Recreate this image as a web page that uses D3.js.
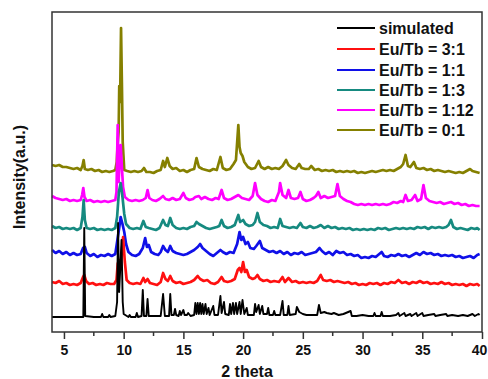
<!DOCTYPE html>
<html><head><meta charset="utf-8">
<script src="https://cdn.jsdelivr.net/npm/d3@7"></script>
<style>body{margin:0;background:#fff}svg{display:block}text{font-family:Arial,"Liberation Sans",sans-serif;font-weight:bold}</style>
</head><body><svg id="c" width="488" height="379"></svg>
<script>
const seriesNames = ["simulated","Eu/Tb = 3:1","Eu/Tb = 1:1","Eu/Tb = 1:3","Eu/Tb = 1:12","Eu/Tb = 0:1"];
const seriesColors = ["#000000","#ff1010","#1010e8","#168a80","#ff00ff","#858000"];
const xTicks = [5,10,15,20,25,30,35,40];
const xMinorTicks = [7.5,12.5,17.5,22.5,27.5,32.5,37.5];

const simulated = [[4.0,15],[6.5,15],[6.62,15],[6.7,104],[6.78,16],[7.5,15],[8.1,15],[8.2,18],[8.3,15],[8.7,15],[8.8,17],[8.9,15],[9.3,16],[9.45,30],[9.53,109],[9.62,40],[9.7,60],[9.82,92],[9.92,30],[10.0,18],[10.4,15],[10.5,17],[10.6,15],[11.0,15],[11.1,19],[11.2,15],[11.5,16],[11.6,42],[11.7,16],[11.9,16],[12.0,33],[12.1,16],[13.1,16],[13.3,38],[13.45,16],[13.8,16],[13.9,38],[14.0,17],[14.2,17],[14.3,23],[14.4,17],[14.6,16],[14.7,21],[14.8,17],[15.0,22],[15.1,17],[15.3,17],[15.4,19],[15.6,16],[15.9,17],[16.0,29],[16.1,18],[16.2,29],[16.3,18],[16.4,29],[16.5,18],[16.6,28],[16.7,18],[16.85,28],[16.95,18],[17.1,24],[17.2,17],[17.5,26],[17.6,17],[17.9,17],[18.1,36],[18.2,19],[18.4,30],[18.5,18],[18.8,17],[18.9,28],[19.0,18],[19.15,29],[19.25,18],[19.4,29],[19.5,18],[19.7,30],[19.8,18],[19.95,32],[20.1,18],[20.3,24],[20.4,17],[20.9,17],[21.0,28],[21.1,20],[21.3,27],[21.4,18],[21.6,26],[21.7,18],[22.0,18],[22.1,24],[22.2,17],[22.5,17],[22.6,21],[22.7,17],[23.1,17],[23.3,31],[23.4,17],[23.7,17],[23.8,26],[23.9,17],[24.4,18],[24.5,25],[24.7,20],[25.0,18],[25.3,17],[26.2,17],[26.35,27],[26.5,19],[26.8,20],[27.0,19],[27.4,18],[27.6,19],[28.0,17],[28.4,18],[29.0,21],[29.1,16],[29.5,16],[30.0,17],[30.5,16],[30.9,16],[31.0,19],[31.1,16],[31.5,16],[31.6,20],[31.7,16],[32.3,16],[32.8,17],[33.0,19],[33.1,16],[33.5,19],[33.6,16],[34.0,18],[34.1,16],[34.5,19],[34.6,16],[35.0,19],[35.1,16],[35.5,17],[36.0,18],[36.1,16],[36.5,17],[37.0,18],[37.1,16],[37.5,17],[38.0,16],[38.4,17],[38.8,16],[39.2,18],[39.4,16],[39.7,18],[39.8,17]];

const ratio3to1 = [[4.0,50],[4.3,49],[4.6,51],[4.9,48],[5.2,49],[5.5,47],[5.8,48],[6.1,47],[6.4,49],[6.6,55],[6.7,57],[6.85,51],[7.1,48],[7.4,49],[7.7,47],[8.0,48],[8.3,47],[8.6,49],[8.9,48],[9.2,48],[9.4,52],[9.5,68],[9.6,72],[9.7,62],[9.8,74],[9.95,95],[10.1,70],[10.25,52],[10.5,49],[10.8,48],[11.1,49],[11.4,48],[11.65,54],[11.8,50],[12.0,53],[12.2,49],[12.5,48],[12.8,47],[13.1,50],[13.3,59],[13.5,53],[13.7,51],[13.9,56],[14.1,51],[14.4,49],[14.7,50],[15.0,48],[15.3,49],[15.6,50],[15.9,52],[16.2,56],[16.4,53],[16.7,51],[17.0,52],[17.3,49],[17.6,48],[17.9,50],[18.2,55],[18.4,51],[18.7,50],[19.0,51],[19.3,53],[19.55,62],[19.7,64],[19.85,60],[20.0,70],[20.15,60],[20.3,62],[20.5,55],[20.8,53],[21.0,54],[21.2,57],[21.4,53],[21.7,51],[22.0,52],[22.3,50],[22.6,51],[23.0,50],[23.3,55],[23.5,50],[23.8,54],[24.1,50],[24.4,51],[24.7,49],[25.0,50],[25.3,49],[25.6,50],[25.9,49],[26.2,51],[26.5,57],[26.7,52],[27.0,51],[27.3,52],[27.6,50],[27.9,51],[28.2,50],[28.5,49],[28.8,50],[29.1,48],[29.4,49],[29.7,47],[30.0,48],[30.3,47],[30.6,49],[30.9,48],[31.2,49],[31.5,47],[31.8,49],[32.1,48],[32.4,50],[32.7,49],[33.0,52],[33.3,49],[33.6,50],[33.9,48],[34.2,50],[34.5,49],[34.8,51],[35.1,49],[35.4,50],[35.7,48],[36.0,49],[36.3,48],[36.6,50],[36.9,48],[37.2,49],[37.5,47],[37.8,48],[38.1,47],[38.4,48],[38.7,46],[39.0,48],[39.3,47],[39.6,48],[39.8,46]];

const ratio1to1 = [[4.0,82],[4.3,79],[4.6,81],[4.9,78],[5.2,80],[5.5,77],[5.8,79],[6.1,77],[6.4,78],[6.6,84],[6.75,85],[6.9,79],[7.2,76],[7.5,78],[7.8,75],[8.1,77],[8.4,76],[8.7,78],[9.0,76],[9.3,78],[9.45,90],[9.6,102],[9.75,115],[9.9,108],[10.05,100],[10.2,88],[10.4,80],[10.7,77],[11.0,76],[11.3,78],[11.6,84],[11.8,94],[11.95,85],[12.1,87],[12.3,80],[12.6,78],[12.9,77],[13.1,80],[13.3,86],[13.5,82],[13.7,80],[13.9,86],[14.1,81],[14.4,79],[14.7,78],[15.0,77],[15.3,78],[15.6,80],[15.9,82],[16.2,85],[16.4,88],[16.6,84],[16.9,81],[17.2,78],[17.5,76],[17.8,79],[18.1,82],[18.3,80],[18.6,78],[18.9,80],[19.2,79],[19.5,88],[19.7,100],[19.85,92],[20.0,95],[20.2,88],[20.4,90],[20.6,84],[20.9,83],[21.1,86],[21.4,91],[21.6,84],[21.9,82],[22.2,80],[22.5,81],[22.8,79],[23.1,81],[23.4,78],[23.7,80],[24.0,77],[24.3,79],[24.6,78],[24.9,80],[25.2,77],[25.5,78],[25.8,79],[26.1,80],[26.4,84],[26.6,81],[26.9,78],[27.2,80],[27.5,77],[27.8,81],[28.1,79],[28.4,80],[28.7,77],[29.0,78],[29.3,76],[29.6,77],[29.9,74],[30.2,75],[30.5,74],[30.8,76],[31.1,75],[31.4,78],[31.6,80],[31.8,76],[32.1,75],[32.4,77],[32.7,76],[33.0,78],[33.3,76],[33.6,77],[33.9,75],[34.2,77],[34.5,79],[34.8,77],[35.1,80],[35.4,78],[35.7,79],[36.0,77],[36.3,78],[36.6,76],[36.9,77],[37.2,76],[37.5,77],[37.8,75],[38.1,76],[38.4,74],[38.7,75],[39.0,76],[39.3,74],[39.6,77],[39.8,78]];

const ratio1to3 = [[4.0,106],[4.3,104],[4.6,105],[4.9,103],[5.2,104],[5.5,103],[5.8,104],[6.1,102],[6.4,104],[6.55,115],[6.65,132],[6.75,112],[6.9,104],[7.2,103],[7.5,104],[7.8,102],[8.1,103],[8.4,102],[8.7,103],[9.0,102],[9.3,104],[9.45,115],[9.6,140],[9.75,149],[9.9,135],[10.05,118],[10.2,108],[10.5,104],[10.8,103],[11.1,104],[11.4,103],[11.65,111],[11.85,105],[12.1,104],[12.4,103],[12.7,102],[13.0,104],[13.3,112],[13.5,107],[13.7,106],[13.9,114],[14.1,107],[14.4,104],[14.7,103],[15.0,104],[15.3,103],[15.6,105],[15.9,106],[16.1,110],[16.3,108],[16.6,106],[16.9,104],[17.2,103],[17.5,104],[17.8,105],[18.0,106],[18.2,112],[18.4,106],[18.7,104],[19.0,105],[19.3,107],[19.6,117],[19.75,110],[20.0,112],[20.2,108],[20.5,106],[20.8,107],[21.0,110],[21.2,119],[21.4,110],[21.7,107],[22.0,106],[22.3,104],[22.6,105],[22.9,104],[23.1,113],[23.3,106],[23.6,105],[23.9,104],[24.2,105],[24.5,104],[24.8,109],[25.0,105],[25.3,104],[25.6,106],[25.9,104],[26.2,105],[26.5,107],[26.8,104],[27.1,106],[27.4,104],[27.7,105],[28.0,103],[28.3,104],[28.6,103],[28.9,104],[29.2,102],[29.5,103],[29.8,102],[30.1,103],[30.4,102],[30.7,103],[31.0,102],[31.3,104],[31.6,103],[31.9,104],[32.2,102],[32.5,103],[32.8,104],[33.1,103],[33.4,104],[33.7,103],[34.0,104],[34.3,103],[34.6,105],[34.9,104],[35.2,105],[35.5,103],[35.8,105],[36.1,104],[36.4,105],[36.7,104],[37.0,105],[37.2,107],[37.4,112],[37.6,105],[37.9,103],[38.2,104],[38.5,103],[38.8,102],[39.1,104],[39.4,103],[39.6,104],[39.8,102]];

const ratio1to12 = [[4.0,136],[4.3,134],[4.6,133],[4.9,132],[5.2,133],[5.5,131],[5.8,132],[6.1,131],[6.4,132],[6.52,137],[6.62,144],[6.72,135],[6.9,131],[7.2,132],[7.5,130],[7.8,131],[8.1,130],[8.4,131],[8.7,130],[9.0,131],[9.3,132],[9.4,140],[9.5,207],[9.58,150],[9.68,175],[9.75,187],[9.85,165],[9.95,145],[10.1,135],[10.4,132],[10.7,131],[11.0,132],[11.3,131],[11.6,132],[11.85,134],[12.0,142],[12.15,134],[12.4,132],[12.7,131],[13.0,133],[13.3,136],[13.5,133],[13.8,132],[14.1,134],[14.4,132],[14.7,133],[15.0,139],[15.2,134],[15.5,132],[15.8,133],[16.0,135],[16.3,136],[16.5,133],[16.8,135],[17.1,133],[17.4,132],[17.7,134],[17.95,133],[18.2,142],[18.4,134],[18.7,132],[19.0,133],[19.3,135],[19.6,137],[19.9,134],[20.2,133],[20.5,132],[20.8,136],[21.0,149],[21.2,137],[21.5,133],[21.8,131],[22.1,130],[22.4,132],[22.7,131],[23.0,140],[23.1,149],[23.3,137],[23.6,134],[23.8,142],[24.0,134],[24.3,133],[24.6,134],[24.8,140],[25.0,133],[25.3,131],[25.6,132],[25.9,134],[26.1,136],[26.3,140],[26.5,134],[26.8,136],[27.1,134],[27.4,135],[27.7,136],[27.9,148],[28.1,136],[28.4,133],[28.7,131],[29.0,130],[29.3,128],[29.6,127],[29.9,128],[30.2,127],[30.5,128],[30.8,127],[31.1,128],[31.4,127],[31.7,128],[32.0,127],[32.3,128],[32.6,130],[32.9,129],[33.2,131],[33.4,130],[33.6,137],[33.8,131],[34.1,132],[34.4,137],[34.6,131],[34.9,133],[35.1,147],[35.3,134],[35.6,131],[35.9,130],[36.2,129],[36.5,130],[36.8,128],[37.1,129],[37.4,130],[37.7,128],[38.0,129],[38.3,127],[38.6,128],[38.9,126],[39.2,127],[39.5,126],[39.8,126]];

const ratio0to1 = [[4.0,167],[4.3,166],[4.6,167],[4.9,165],[5.2,165],[5.5,164],[5.8,163],[6.1,164],[6.4,162],[6.55,166],[6.65,172],[6.75,163],[7.0,162],[7.3,163],[7.6,161],[7.9,162],[8.2,160],[8.5,161],[8.8,160],[9.1,161],[9.3,162],[9.42,170],[9.5,189],[9.58,200],[9.63,246],[9.7,230],[9.78,304],[9.85,250],[9.92,190],[10.05,162],[10.3,161],[10.6,160],[10.9,161],[11.2,160],[11.5,161],[11.7,164],[11.9,160],[12.2,160],[12.5,159],[12.8,161],[13.1,162],[13.3,171],[13.45,165],[13.65,174],[13.85,166],[14.1,163],[14.4,164],[14.7,161],[15.0,162],[15.3,160],[15.6,162],[15.9,163],[16.1,174],[16.3,165],[16.6,163],[16.9,162],[17.2,161],[17.5,163],[17.8,162],[18.1,175],[18.3,164],[18.6,162],[18.9,163],[19.2,168],[19.4,172],[19.6,207],[19.7,185],[19.8,179],[19.95,176],[20.1,170],[20.4,165],[20.7,163],[21.0,164],[21.3,171],[21.5,165],[21.8,163],[22.1,165],[22.4,163],[22.7,164],[23.0,163],[23.3,166],[23.6,172],[23.8,167],[24.1,164],[24.4,163],[24.7,168],[24.9,164],[25.2,163],[25.5,163],[25.7,166],[26.0,162],[26.3,163],[26.6,161],[26.9,162],[27.2,161],[27.5,162],[27.8,160],[28.1,161],[28.4,160],[28.7,161],[29.0,160],[29.3,161],[29.6,159],[29.9,160],[30.2,159],[30.5,160],[30.8,161],[31.1,160],[31.4,161],[31.7,162],[32.0,161],[32.3,162],[32.6,161],[32.9,163],[33.2,165],[33.4,168],[33.6,177],[33.8,166],[34.0,165],[34.3,170],[34.5,164],[34.8,163],[35.1,164],[35.4,162],[35.7,163],[36.0,161],[36.3,162],[36.6,161],[36.9,160],[37.2,161],[37.5,160],[37.8,159],[38.1,160],[38.4,159],[38.7,161],[39.0,163],[39.2,161],[39.5,160],[39.8,159]];

const seriesData = [simulated, ratio3to1, ratio1to1, ratio1to3, ratio1to12, ratio0to1];

const svg = d3.select("#c");
const L = 52, R = 482, T = 12, B = 332;
const x = d3.scaleLinear().domain([4, 40]).range([L, R]);
const y = d3.scaleLinear().domain([0, 320]).range([B, T]);

const line = d3.line().x(d => x(d[0])).y(d => y(d[1]));
for (let i = seriesData.length - 1; i >= 0; i--) {
  svg.append("path").datum(seriesData[i])
    .attr("fill", "none")
    .attr("stroke", seriesColors[i])
    .attr("stroke-width", i === 0 ? 1.9 : 2.7)
    .attr("stroke-linejoin", "round")
    .attr("d", line);
}

svg.append("rect").attr("x", L).attr("y", T).attr("width", R - L).attr("height", B - T)
  .attr("fill", "none").attr("stroke", "#333").attr("stroke-width", 1.5);

const ax = svg.append("g").attr("transform", `translate(0,${B})`)
  .call(d3.axisBottom(x).tickValues(xTicks).tickSize(7).tickPadding(6).tickFormat(d3.format("d")));
ax.select(".domain").remove();
ax.selectAll(".tick line").attr("stroke", "#333").attr("stroke-width", 1.5);
ax.selectAll(".tick text").attr("font-size", 14).attr("font-weight", "bold")
  .attr("font-family", "Arial, 'Liberation Sans', sans-serif").attr("fill", "#111")
  .attr("dx", d => d === 40 ? -3 : 0);
svg.append("g").attr("transform", `translate(0,${B})`)
  .selectAll("line").data(xMinorTicks).join("line")
  .attr("x1", d => x(d)).attr("x2", d => x(d)).attr("y1", 0).attr("y2", 4)
  .attr("stroke", "#333").attr("stroke-width", 1.5);

svg.append("text").attr("x", 247).attr("y", 377).attr("text-anchor", "middle")
  .attr("font-size", 16).attr("fill", "#111").text("2 theta");
svg.append("text").attr("transform", "translate(25,177) rotate(-90)")
  .attr("text-anchor", "middle").attr("font-size", 16).attr("fill", "#111").text("Intensity(a.u.)");

const lg = svg.append("g");
const rowsY = [28, 49, 70, 90, 110, 130];
seriesNames.forEach((n, i) => {
  lg.append("line").attr("x1", 337).attr("x2", 375).attr("y1", rowsY[i]).attr("y2", rowsY[i])
    .attr("stroke", seriesColors[i]).attr("stroke-width", 2);
  lg.append("text").attr("x", 379).attr("y", rowsY[i] + 6).attr("font-size", 16)
    .attr("fill", "#111").text(n);
});
</script></body></html>
